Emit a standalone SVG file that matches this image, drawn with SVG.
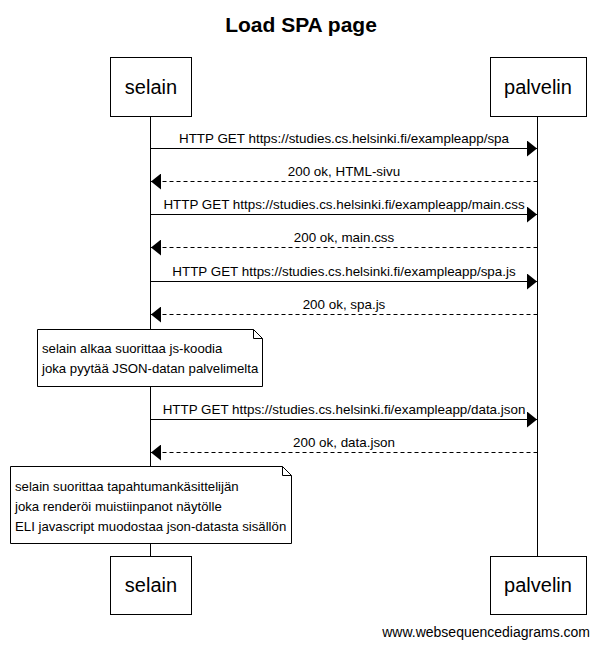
<svg xmlns="http://www.w3.org/2000/svg" width="599" height="648" viewBox="0 0 599 648">
<style>
text{font-family:"Liberation Sans",Arial,sans-serif;fill:#000}
.actor rect{fill:#fff;stroke:#000;stroke-width:1}
.actor text{font-size:20px;text-anchor:middle}
.life{stroke:#000;stroke-width:1}
.msg{stroke:#000;stroke-width:1;fill:none}
.dash{stroke-dasharray:4,3}
.lbl{font-size:13.4px;text-anchor:middle}
.note path{fill:#fff;stroke:#000;stroke-width:1}
.note text{font-size:13.2px}
</style>
<defs>
<marker id="ah" viewBox="0 0 10 16" refX="10" refY="8" markerWidth="10" markerHeight="16" markerUnits="userSpaceOnUse" orient="auto">
<path d="M0,0 L10,8 L0,16 Z" fill="#000"/>
</marker>
</defs>
<rect width="599" height="648" fill="#fff"/>
<text x="301" y="32" font-size="21" font-weight="bold" text-anchor="middle">Load SPA page</text>
<g id="lifelines">
<line class="life" x1="150.5" y1="116" x2="150.5" y2="556"/>
<line class="life" x1="537.5" y1="116" x2="537.5" y2="556"/>
</g>
<g id="selain_top" class="actor"><rect x="110.5" y="57.5" width="81" height="59"/><text x="151" y="94">selain</text></g>
<g id="palvelin_top" class="actor"><rect x="490.5" y="57.5" width="96" height="59"/><text x="538" y="94">palvelin</text></g>
<g id="selain_bottom" class="actor"><rect x="110.5" y="556.5" width="81" height="58"/><text x="151" y="592">selain</text></g>
<g id="palvelin_bottom" class="actor"><rect x="490.5" y="556.5" width="96" height="58"/><text x="538" y="592">palvelin</text></g>
<g id="connectors">
<line class="msg" x1="150.5" y1="148.5" x2="537" y2="148.5" marker-end="url(#ah)"/>
<text class="lbl" x="344" y="143">HTTP GET https://studies.cs.helsinki.fi/exampleapp/spa</text>
<line class="msg dash" x1="537.5" y1="181.5" x2="151" y2="181.5" marker-end="url(#ah)"/>
<text class="lbl" x="344" y="176">200 ok, HTML-sivu</text>
<line class="msg" x1="150.5" y1="214.5" x2="537" y2="214.5" marker-end="url(#ah)"/>
<text class="lbl" x="344" y="209">HTTP GET https://studies.cs.helsinki.fi/exampleapp/main.css</text>
<line class="msg dash" x1="537.5" y1="247.5" x2="151" y2="247.5" marker-end="url(#ah)"/>
<text class="lbl" x="344" y="242">200 ok, main.css</text>
<line class="msg" x1="150.5" y1="281.5" x2="537" y2="281.5" marker-end="url(#ah)"/>
<text class="lbl" x="344" y="276">HTTP GET https://studies.cs.helsinki.fi/exampleapp/spa.js</text>
<line class="msg dash" x1="537.5" y1="314.5" x2="151" y2="314.5" marker-end="url(#ah)"/>
<text class="lbl" x="344" y="309">200 ok, spa.js</text>
<line class="msg" x1="150.5" y1="419.5" x2="537" y2="419.5" marker-end="url(#ah)"/>
<text class="lbl" x="344" y="414">HTTP GET https://studies.cs.helsinki.fi/exampleapp/data.json</text>
<line class="msg dash" x1="537.5" y1="452.5" x2="151" y2="452.5" marker-end="url(#ah)"/>
<text class="lbl" x="344" y="447">200 ok, data.json</text>
</g>
<g id="note1" class="note">
<path d="M37.5,329.5 H253.5 L262.5,338.5 V386.5 H37.5 Z M253.5,329.5 V338.5 H262.5"/>
<text x="42" y="353">selain alkaa suorittaa js-koodia</text>
<text x="42" y="373">joka pyytää JSON-datan palvelimelta</text>
</g>
<g id="note2" class="note">
<path d="M10.5,466.5 H282.5 L291.5,475.5 V543.5 H10.5 Z M282.5,466.5 V475.5 H291.5"/>
<text x="15" y="491">selain suorittaa tapahtumankäsittelijän</text>
<text x="15" y="511">joka renderöi muistiinpanot näytölle</text>
<text x="15" y="531">ELI javascript muodostaa json-datasta sisällön</text>
</g>
<text x="590" y="637" font-size="14" text-anchor="end">www.websequencediagrams.com</text>
</svg>
